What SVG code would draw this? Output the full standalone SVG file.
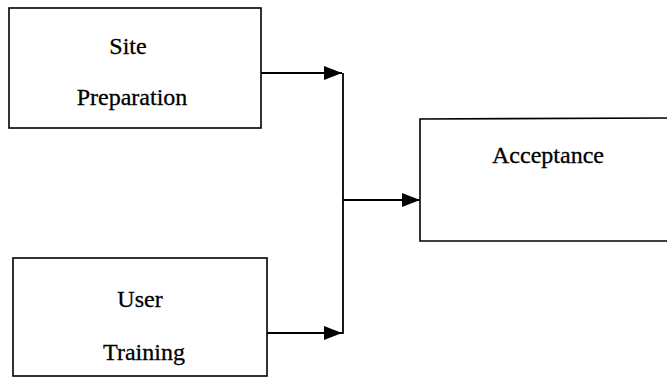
<svg xmlns="http://www.w3.org/2000/svg" width="667" height="386" viewBox="0 0 667 386">
<defs>
<style>
.box{fill:#fff;stroke:#000;stroke-width:1.6}
.lbl{font-family:'Liberation Serif','Times New Roman',serif;font-size:24px;fill:#000;stroke:#000;stroke-width:0.3;text-anchor:middle}
.conn{fill:none;stroke:#000;stroke-width:1.8}
</style>
<marker id="ah" markerUnits="userSpaceOnUse" markerWidth="20" markerHeight="16" refX="18" refY="7" orient="auto">
<path d="M0,0 L18,7 L0,14 Z" fill="#000"/>
</marker>
</defs>
<rect width="667" height="386" fill="#fff"/>
<g id="site">
<rect class="box" x="9" y="8" width="252" height="120"/>
<text class="lbl" x="128" y="54">Site</text>
<text class="lbl" x="132" y="105">Preparation</text>
</g>
<g id="user">
<rect class="box" x="13" y="258" width="254" height="118"/>
<text class="lbl" x="140" y="307">User</text>
<text class="lbl" x="144" y="360">Training</text>
</g>
<g id="acceptance">
<path class="box" d="M672,118 L420,119 L420,241 L672,241"/>
<text class="lbl" x="548" y="163">Acceptance</text>
</g>
<g id="connectors">
<line class="conn" x1="261" y1="73" x2="342" y2="73" marker-end="url(#ah)"/>
<line class="conn" x1="267" y1="333" x2="342" y2="333" marker-end="url(#ah)"/>
<line class="conn" x1="343" y1="73" x2="343" y2="334"/>
<line class="conn" x1="343" y1="200" x2="420" y2="200" marker-end="url(#ah)"/>
</g>
</svg>
